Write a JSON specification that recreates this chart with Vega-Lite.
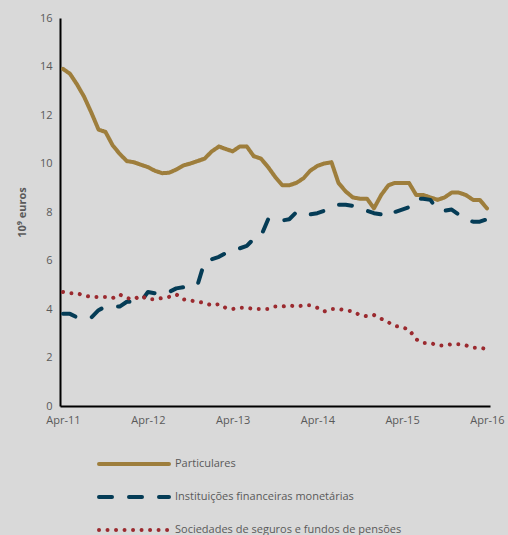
{
  "$schema": "https://vega.github.io/schema/vega-lite/v6.json",
  "width": 430,
  "height": 388,
  "autosize": {"type": "none"},
  "padding": {"left": 60, "top": 18, "right": 18, "bottom": 129},
  "background": "#d9d9d9",
  "config": {
    "view": {"stroke": null},
    "font": "Open Sans",
    "axis": {"labelColor": "#595959", "labelFontSize": 11, "titleColor": "#595959", "grid": false, "ticks": false, "domainColor": "#000000", "domainWidth": 2},
    "legend": {"labelColor": "#595959", "labelFontSize": 11}
  },
  "data": {
    "values": [
      {"d": "2011-04-01", "Particulares": 13.9, "Instituições financeiras monetárias": 3.8, "Sociedades de seguros e fundos de pensões": 4.7},
      {"d": "2011-05-01", "Particulares": 13.7, "Instituições financeiras monetárias": 3.8, "Sociedades de seguros e fundos de pensões": 4.65},
      {"d": "2011-06-01", "Particulares": 13.25, "Instituições financeiras monetárias": 3.65, "Sociedades de seguros e fundos de pensões": 4.65},
      {"d": "2011-07-01", "Particulares": 12.75, "Instituições financeiras monetárias": 3.6, "Sociedades de seguros e fundos de pensões": 4.55},
      {"d": "2011-08-01", "Particulares": 12.1, "Instituições financeiras monetárias": 3.65, "Sociedades de seguros e fundos de pensões": 4.5},
      {"d": "2011-09-01", "Particulares": 11.4, "Instituições financeiras monetárias": 3.95, "Sociedades de seguros e fundos de pensões": 4.5},
      {"d": "2011-10-01", "Particulares": 11.3, "Instituições financeiras monetárias": 4.1, "Sociedades de seguros e fundos de pensões": 4.5},
      {"d": "2011-11-01", "Particulares": 10.75, "Instituições financeiras monetárias": 4.1, "Sociedades de seguros e fundos de pensões": 4.45},
      {"d": "2011-12-01", "Particulares": 10.4, "Instituições financeiras monetárias": 4.1, "Sociedades de seguros e fundos de pensões": 4.6},
      {"d": "2012-01-01", "Particulares": 10.1, "Instituições financeiras monetárias": 4.3, "Sociedades de seguros e fundos de pensões": 4.45},
      {"d": "2012-02-01", "Particulares": 10.05, "Instituições financeiras monetárias": 4.3, "Sociedades de seguros e fundos de pensões": 4.4},
      {"d": "2012-03-01", "Particulares": 9.95, "Instituições financeiras monetárias": 4.3, "Sociedades de seguros e fundos de pensões": 4.55},
      {"d": "2012-04-01", "Particulares": 9.85, "Instituições financeiras monetárias": 4.7, "Sociedades de seguros e fundos de pensões": 4.4},
      {"d": "2012-05-01", "Particulares": 9.7, "Instituições financeiras monetárias": 4.65, "Sociedades de seguros e fundos de pensões": 4.4},
      {"d": "2012-06-01", "Particulares": 9.6, "Instituições financeiras monetárias": 4.6, "Sociedades de seguros e fundos de pensões": 4.45},
      {"d": "2012-07-01", "Particulares": 9.62, "Instituições financeiras monetárias": 4.7, "Sociedades de seguros e fundos de pensões": 4.5},
      {"d": "2012-08-01", "Particulares": 9.75, "Instituições financeiras monetárias": 4.85, "Sociedades de seguros e fundos de pensões": 4.6},
      {"d": "2012-09-01", "Particulares": 9.92, "Instituições financeiras monetárias": 4.9, "Sociedades de seguros e fundos de pensões": 4.4},
      {"d": "2012-10-01", "Particulares": 10.0, "Instituições financeiras monetárias": 4.9, "Sociedades de seguros e fundos de pensões": 4.35},
      {"d": "2012-11-01", "Particulares": 10.1, "Instituições financeiras monetárias": 5.0, "Sociedades de seguros e fundos de pensões": 4.3},
      {"d": "2012-12-01", "Particulares": 10.2, "Instituições financeiras monetárias": 5.95, "Sociedades de seguros e fundos de pensões": 4.25},
      {"d": "2013-01-01", "Particulares": 10.5, "Instituições financeiras monetárias": 6.05, "Sociedades de seguros e fundos de pensões": 4.15},
      {"d": "2013-02-01", "Particulares": 10.7, "Instituições financeiras monetárias": 6.15, "Sociedades de seguros e fundos de pensões": 4.2},
      {"d": "2013-03-01", "Particulares": 10.6, "Instituições financeiras monetárias": 6.3, "Sociedades de seguros e fundos de pensões": 4.05},
      {"d": "2013-04-01", "Particulares": 10.5, "Instituições financeiras monetárias": 6.4, "Sociedades de seguros e fundos de pensões": 4.0},
      {"d": "2013-05-01", "Particulares": 10.7, "Instituições financeiras monetárias": 6.5, "Sociedades de seguros e fundos de pensões": 4.05},
      {"d": "2013-06-01", "Particulares": 10.7, "Instituições financeiras monetárias": 6.6, "Sociedades de seguros e fundos de pensões": 4.05},
      {"d": "2013-07-01", "Particulares": 10.3, "Instituições financeiras monetárias": 6.9, "Sociedades de seguros e fundos de pensões": 4.0},
      {"d": "2013-08-01", "Particulares": 10.2, "Instituições financeiras monetárias": 7.0, "Sociedades de seguros e fundos de pensões": 4.0},
      {"d": "2013-09-01", "Particulares": 9.85, "Instituições financeiras monetárias": 7.7, "Sociedades de seguros e fundos de pensões": 4.0},
      {"d": "2013-10-01", "Particulares": 9.45, "Instituições financeiras monetárias": 7.75, "Sociedades de seguros e fundos de pensões": 4.1},
      {"d": "2013-11-01", "Particulares": 9.1, "Instituições financeiras monetárias": 7.65, "Sociedades de seguros e fundos de pensões": 4.1},
      {"d": "2013-12-01", "Particulares": 9.1, "Instituições financeiras monetárias": 7.7, "Sociedades de seguros e fundos de pensões": 4.15},
      {"d": "2014-01-01", "Particulares": 9.2, "Instituições financeiras monetárias": 8.0, "Sociedades de seguros e fundos de pensões": 4.1},
      {"d": "2014-02-01", "Particulares": 9.4, "Instituições financeiras monetárias": 8.0, "Sociedades de seguros e fundos de pensões": 4.15},
      {"d": "2014-03-01", "Particulares": 9.7, "Instituições financeiras monetárias": 7.9, "Sociedades de seguros e fundos de pensões": 4.15},
      {"d": "2014-04-01", "Particulares": 9.9, "Instituições financeiras monetárias": 7.95, "Sociedades de seguros e fundos de pensões": 4.05},
      {"d": "2014-05-01", "Particulares": 10.0, "Instituições financeiras monetárias": 8.05, "Sociedades de seguros e fundos de pensões": 3.9},
      {"d": "2014-06-01", "Particulares": 10.05, "Instituições financeiras monetárias": 8.2, "Sociedades de seguros e fundos de pensões": 4.0},
      {"d": "2014-07-01", "Particulares": 9.2, "Instituições financeiras monetárias": 8.3, "Sociedades de seguros e fundos de pensões": 4.0},
      {"d": "2014-08-01", "Particulares": 8.85, "Instituições financeiras monetárias": 8.3, "Sociedades de seguros e fundos de pensões": 3.95},
      {"d": "2014-09-01", "Particulares": 8.6, "Instituições financeiras monetárias": 8.25, "Sociedades de seguros e fundos de pensões": 3.9},
      {"d": "2014-10-01", "Particulares": 8.55, "Instituições financeiras monetárias": 8.15, "Sociedades de seguros e fundos de pensões": 3.75},
      {"d": "2014-11-01", "Particulares": 8.55, "Instituições financeiras monetárias": 8.05, "Sociedades de seguros e fundos de pensões": 3.7},
      {"d": "2014-12-01", "Particulares": 8.15, "Instituições financeiras monetárias": 7.95, "Sociedades de seguros e fundos de pensões": 3.75},
      {"d": "2015-01-01", "Particulares": 8.7, "Instituições financeiras monetárias": 7.9, "Sociedades de seguros e fundos de pensões": 3.6},
      {"d": "2015-02-01", "Particulares": 9.1, "Instituições financeiras monetárias": 7.8, "Sociedades de seguros e fundos de pensões": 3.45},
      {"d": "2015-03-01", "Particulares": 9.2, "Instituições financeiras monetárias": 8.0, "Sociedades de seguros e fundos de pensões": 3.3},
      {"d": "2015-04-01", "Particulares": 9.2, "Instituições financeiras monetárias": 8.1, "Sociedades de seguros e fundos de pensões": 3.25},
      {"d": "2015-05-01", "Particulares": 9.2, "Instituições financeiras monetárias": 8.2, "Sociedades de seguros e fundos de pensões": 3.15},
      {"d": "2015-06-01", "Particulares": 8.7, "Instituições financeiras monetárias": 8.55, "Sociedades de seguros e fundos de pensões": 2.75},
      {"d": "2015-07-01", "Particulares": 8.7, "Instituições financeiras monetárias": 8.55, "Sociedades de seguros e fundos de pensões": 2.6},
      {"d": "2015-08-01", "Particulares": 8.6, "Instituições financeiras monetárias": 8.5, "Sociedades de seguros e fundos de pensões": 2.6},
      {"d": "2015-09-01", "Particulares": 8.5, "Instituições financeiras monetárias": 8.1, "Sociedades de seguros e fundos de pensões": 2.5},
      {"d": "2015-10-01", "Particulares": 8.6, "Instituições financeiras monetárias": 8.05, "Sociedades de seguros e fundos de pensões": 2.5},
      {"d": "2015-11-01", "Particulares": 8.8, "Instituições financeiras monetárias": 8.1, "Sociedades de seguros e fundos de pensões": 2.55},
      {"d": "2015-12-01", "Particulares": 8.8, "Instituições financeiras monetárias": 7.9, "Sociedades de seguros e fundos de pensões": 2.55},
      {"d": "2016-01-01", "Particulares": 8.7, "Instituições financeiras monetárias": 7.7, "Sociedades de seguros e fundos de pensões": 2.5},
      {"d": "2016-02-01", "Particulares": 8.5, "Instituições financeiras monetárias": 7.6, "Sociedades de seguros e fundos de pensões": 2.4},
      {"d": "2016-03-01", "Particulares": 8.5, "Instituições financeiras monetárias": 7.6, "Sociedades de seguros e fundos de pensões": 2.4},
      {"d": "2016-04-01", "Particulares": 8.15, "Instituições financeiras monetárias": 7.7, "Sociedades de seguros e fundos de pensões": 2.35}
    ]
  },
  "transform": [
    {"fold": ["Particulares", "Instituições financeiras monetárias", "Sociedades de seguros e fundos de pensões"], "as": ["serie", "v"]}
  ],
  "mark": {"type": "line", "strokeWidth": 4, "strokeCap": "round", "strokeJoin": "round"},
  "encoding": {
    "x": {
      "field": "d", "type": "temporal",
      "scale": {"type": "utc", "domain": [{"year": 2011, "month": 3, "date": 19, "utc": true}, {"year": 2016, "month": 4, "date": 14, "utc": true}]},
      "axis": {
        "title": null, "format": "%b-%y", "labelPadding": 8, "labelFlush": false,
        "values": [
          {"year": 2011, "month": 4, "date": 1, "utc": true},
          {"year": 2012, "month": 4, "date": 1, "utc": true},
          {"year": 2013, "month": 4, "date": 1, "utc": true},
          {"year": 2014, "month": 4, "date": 1, "utc": true},
          {"year": 2015, "month": 4, "date": 1, "utc": true},
          {"year": 2016, "month": 4, "date": 1, "utc": true}
        ]
      }
    },
    "y": {
      "field": "v", "type": "quantitative",
      "scale": {"domain": [0, 16]},
      "axis": {"title": "10⁹ euros", "titleFontWeight": "bold", "titleFontSize": 11, "values": [0, 2, 4, 6, 8, 10, 12, 14, 16], "labelPadding": 8, "titleX": -38, "titleY": 194, "titleAngle": -90, "titleAlign": "center", "titleBaseline": "middle"}
    },
    "color": {
      "field": "serie", "type": "nominal",
      "scale": {"domain": ["Particulares", "Instituições financeiras monetárias", "Sociedades de seguros e fundos de pensões"], "range": ["#9e7e3c", "#053c56", "#9b2a2f"]},
      "legend": {"title": null, "orient": "none", "legendX": 65, "legendY": 437, "symbolType": "M-5,0H5", "symbolSize": 196, "symbolStrokeWidth": 4, "labelOffset": 32, "rowPadding": 16, "labelLimit": 400,
        "encoding": {"symbols": {"strokeCap": {"value": "round"}}}}
    },
    "strokeDash": {
      "field": "serie", "type": "nominal",
      "scale": {"domain": ["Particulares", "Instituições financeiras monetárias", "Sociedades de seguros e fundos de pensões"], "range": [[1, 0], [13, 17], [0.01, 8.5]]}
    }
  }
}
